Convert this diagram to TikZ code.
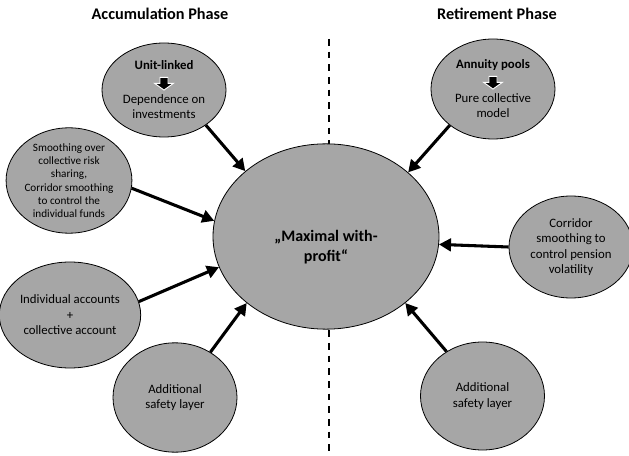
\documentclass[tikz,border=0pt]{standalone}
\usepackage{fontspec}
\setmainfont{Carlito}
\usetikzlibrary{shapes.geometric,arrows.meta}

\definecolor{ovalgray}{RGB}{166,166,166}
% small black block arrow used inside the two top ovals
\newcommand{\downblock}{\tikz[baseline=-1pt]\filldraw[fill=black,draw=white,line width=0.7pt]
  (-3pt,6pt) -- (3pt,6pt) -- (3pt,1.5pt) -- (7pt,1.5pt) -- (0pt,-3.5pt)
  -- (-7pt,1.5pt) -- (-3pt,1.5pt) -- cycle;}

\begin{document}
\begin{tikzpicture}[x=0.75pt,y=-0.75pt,font=\fontsize{9.6}{11.6}\selectfont,
  oval/.style={ellipse,draw,fill=ovalgray,line width=0.6pt,minimum width=93pt,
    inner sep=0pt,align=center},
  feed/.style={line width=2.3pt,-{Triangle[length=9pt,width=9.5pt]}},
  phase/.style={font=\fontsize{12.2}{14}\selectfont\bfseries},
  small/.style={font=\fontsize{8.4}{10}\selectfont}]
  \useasboundingbox (0,0) rectangle (629,456);

  \node[phase] (accum) at (160,14) {Accumulation Phase};
  \node[phase] (retire) at (497,14) {Retirement Phase};

  \coordinate (divtop) at (329,39);
  \coordinate (divbot) at (329,456);
  \draw[line width=1.5pt,dash pattern=on 5pt off 4.5pt] (divtop) -- (divbot);

  \node[oval,minimum width=169.5pt,minimum height=139pt] (main) at (326,236.5) {};
  \node[font=\fontsize{12}{15}\selectfont\bfseries,align=center] (mainlabel)
    at (326,247) {„Maximal with-\\profit“};

  \node[oval,minimum height=70.5pt] (unit) at (164,90)
    {\textbf{Unit-linked}\\[1pt]\downblock\\[1pt]Dependence on\\investments};
  \node[oval,small,minimum height=76pt] (smooth) at (69,180.5)
    {Smoothing over\\collective risk\\sharing,\\Corridor smoothing\\to control the\\individual funds};
  \node[oval,minimum width=94.5pt,minimum height=79.5pt] (indiv) at (70,315)
    {Individual accounts\\+\\collective account};
  \node[oval,minimum height=82pt] (safeA) at (175,397.5) {Additional\\safety layer};

  \node[oval,minimum height=75pt] (annuity) at (493,89)
    {\textbf{Annuity pools}\\[1pt]\downblock\\[1pt]Pure collective\\model};
  \node[oval,minimum height=76.5pt] (corridor) at (571,247)
    {Corridor\\smoothing to\\control pension\\volatility};
  \node[oval,minimum height=81pt] (safeR) at (482.5,396) {Additional\\safety layer};

  \draw[feed] (unit.-40) -- (main.141);
  \draw[feed] (smooth.-7) -- (main.172);
  \draw[feed] (indiv.11) -- (main.196);
  \draw[feed] (safeA.52) -- (main.220);
  \draw[feed] (annuity.220) -- (main.38.5);
  \draw[feed] (corridor.180) -- (main.-4.7);
  \draw[feed] (safeR.129.5) -- (main.-40);
\end{tikzpicture}
\end{document}
